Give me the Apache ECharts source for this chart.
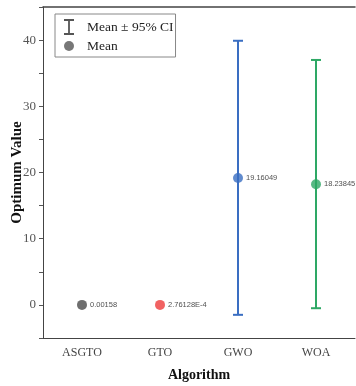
<!DOCTYPE html>
<html><head><meta charset="utf-8">
<script src="https://cdn.jsdelivr.net/npm/echarts@6/dist/echarts.min.js"></script>
<style>html,body{margin:0;padding:0;background:#fff}#c{width:356px;height:386px}</style>
</head><body><div id="c"></div>
<script>
const categories = ['ASGTO', 'GTO', 'GWO', 'WOA'];
const means = [0.00158, 0.000276128, 19.16049, 18.23845];
const meanLabels = ['0.00158', '2.76128E-4', '19.16049', '18.23845'];
const ciLower = [null, null, -1.5, -0.5];
const ciUpper = [null, null, 39.9, 37.0];
const colors = ['#4a4a4a', '#ee3b3b', '#3a6ec2', '#2ea865'];
const yTicks = [0, 10, 20, 30, 40];

const chart = echarts.init(document.getElementById('c'), null, {renderer: 'canvas'});
const serif = '"Liberation Serif", "Times New Roman", serif';

const errData = categories.map((c, i) => ciLower[i] == null ? null : [i, ciLower[i], ciUpper[i]]).filter(d => d);
const errColors = colors.filter((c, i) => ciLower[i] != null);

chart.setOption({
  animation: false,
  grid: {left: 43, right: 1, top: 7, bottom: 48, containLabel: false, outerBoundsMode: 'none'},
  legend: {
    orient: 'vertical', left: 55, top: 14,
    padding: [5, 2, 4, 9],
    borderColor: '#888', borderWidth: 1,
    itemGap: 4, itemWidth: 10, itemHeight: 16,
    textStyle: {fontFamily: serif, fontSize: 13.5, color: '#222', padding: [0, 0, 0, 8]},
    data: [
      {name: 'Mean \u00b1 95% CI', icon: 'path://M0,0 L10,0 L10,2 L5.9,2 L5.9,14 L10,14 L10,16 L0,16 L0,14 L4.1,14 L4.1,2 L0,2 Z', itemStyle: {color: '#555'}},
      {name: 'Mean', icon: 'circle', itemStyle: {color: '#555'}}
    ]
  },
  xAxis: [{
    type: 'category', data: categories, boundaryGap: true,
    name: 'Algorithm', nameLocation: 'middle', nameGap: 30, nameMoveOverlap: false,
    nameTextStyle: {fontFamily: serif, fontSize: 14, fontWeight: 'bold', color: '#111'},
    axisLine: {onZero: false, lineStyle: {color: '#444', width: 1}},
    axisTick: {alignWithLabel: true, length: 5, lineStyle: {color: '#555'}},
    axisLabel: {fontFamily: serif, fontSize: 12, color: '#444', margin: 9}
  }, {
    type: 'category', data: categories, position: 'top',
    axisLine: {show: true, onZero: false, lineStyle: {color: '#444', width: 1.5}},
    axisTick: {show: false}, axisLabel: {show: false}
  }],
  yAxis: [{
    type: 'value', min: -5, max: 45, interval: 5,
    name: 'Optimum Value', nameLocation: 'middle', nameGap: 18, nameMoveOverlap: false,
    nameTextStyle: {fontFamily: serif, fontSize: 15, fontWeight: 'bold', color: '#111'},
    axisLine: {show: true, onZero: false, lineStyle: {color: '#444', width: 1}},
    axisTick: {show: true, length: 4, lineStyle: {color: '#555'}},
    splitLine: {show: false},
    axisLabel: {fontFamily: serif, fontSize: 13, color: '#555', margin: 7,
      formatter: v => yTicks.indexOf(v) >= 0 ? String(v) : ''}
  }],
  series: [
    {
      name: 'Mean \u00b1 95% CI', type: 'custom',
      data: errData,
      z: 3,
      renderItem: function (params, api) {
        const x = api.value(0);
        const lo = api.coord([x, api.value(1)]);
        const hi = api.coord([x, api.value(2)]);
        const hw = 5;
        const col = errColors[params.dataIndex];
        const st = {stroke: col, lineWidth: 2};
        return {type: 'group', children: [
          {type: 'line', shape: {x1: lo[0], y1: lo[1], x2: hi[0], y2: hi[1]}, style: st},
          {type: 'line', shape: {x1: lo[0] - hw, y1: lo[1], x2: lo[0] + hw, y2: lo[1]}, style: st},
          {type: 'line', shape: {x1: hi[0] - hw, y1: hi[1], x2: hi[0] + hw, y2: hi[1]}, style: st}
        ]};
      },
      encode: {x: 0, y: [1, 2]}
    },
    {
      name: 'Mean', type: 'scatter', symbol: 'circle', symbolSize: 10, z: 5,
      data: means.map((m, i) => ({value: [i, m], itemStyle: {color: colors[i]},
        label: {formatter: meanLabels[i]}})),
      label: {show: true, position: 'right', distance: 3, fontFamily: '"Liberation Sans", Arial, sans-serif', fontSize: 7.5, color: '#222'}
    }
  ]
});
</script></body></html>
